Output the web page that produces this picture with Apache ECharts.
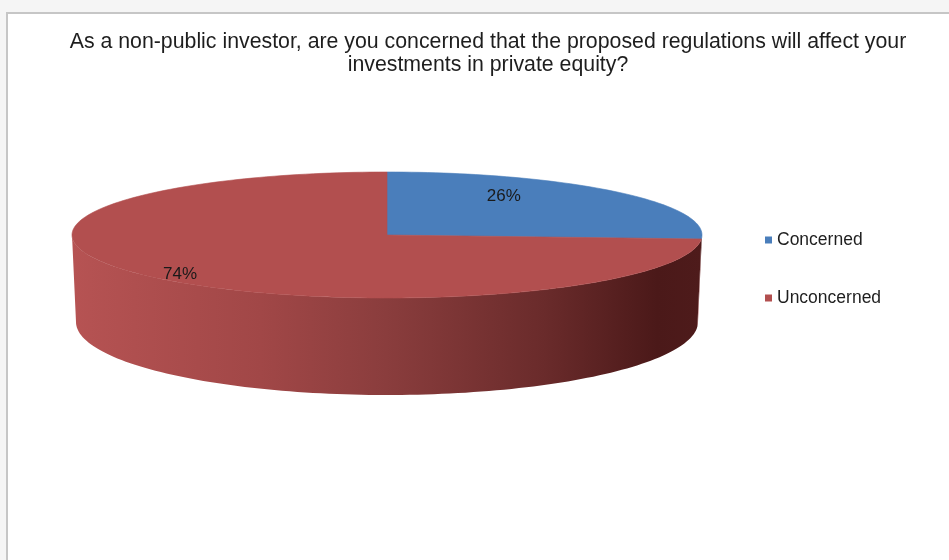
<!DOCTYPE html>
<html>
<head>
<meta charset="utf-8">
<script src="https://cdn.jsdelivr.net/npm/echarts@6/dist/echarts.min.js"></script>
<style>
html,body{margin:0;padding:0;background:#ffffff;}
#chart{width:949px;height:560px;}
</style>
</head>
<body>
<div id="chart"></div>
<script>
// ---- data ----
const categories = ['Concerned', 'Unconcerned'];
const values = [26, 74];
const labelTexts = ['26%', '74%'];

// ---- styling / geometry (not data) ----
const sliceColors = ['#4a7ebb', '#b24f4f'];
const wallStops = [
  [0, '#b65353'], [0.3, '#a14747'], [0.5, '#8a3d3d'],
  [0.75, '#6a2b2b'], [0.93, '#4b1919'], [1, '#4e1b1b']
];
const G = { cx: 387, cy: 235, rx: 315, ry: 63, cyb: 322, rxb: 311, ryb: 73 };
// label anchors as fractions of the top ellipse radii
const labelAnchor = [[0.371, -0.62], [-0.657, 0.62]];

const total = values.reduce((a, b) => a + b, 0);
const starts = [];
let acc = 0;
values.forEach(v => { starts.push(acc / total * 360); acc += v; });

function pt(deg, cx, cy, rx, ry) {
  const t = deg * Math.PI / 180;
  return [cx + rx * Math.sin(t), cy - ry * Math.cos(t)];
}
function arc(a, b, cx, cy, rx, ry) {
  const pts = [];
  const n = Math.max(4, Math.ceil(Math.abs(b - a) / 1.5));
  for (let i = 0; i <= n; i++) pts.push(pt(a + (b - a) * i / n, cx, cy, rx, ry));
  return pts;
}

function makeRender(idx) {
  return function (params, api) {
    const a0 = starts[idx];
    const a1 = a0 + api.value(0) / total * 360;
    const children = [];
    // visible front wall: angles 90..270
    const w0 = Math.max(a0, 90), w1 = Math.min(a1, 270);
    if (w1 > w0) {
      const top = arc(w0, w1, G.cx, G.cy, G.rx, G.ry);
      const bot = arc(w1, w0, G.cx, G.cyb, G.rxb, G.ryb);
      children.push({
        type: 'polygon',
        shape: { points: top.concat(bot) },
        style: {
          fill: new echarts.graphic.LinearGradient(0, 0, 1, 0,
            wallStops.map(s => ({ offset: s[0], color: s[1] })))
        },
        z2: 1
      });
    }
    const topPts = [[G.cx, G.cy]].concat(arc(a0, a1, G.cx, G.cy, G.rx, G.ry));
    children.push({
      type: 'polygon',
      shape: { points: topPts },
      style: { fill: sliceColors[idx], stroke: sliceColors[idx], lineWidth: 0.6 },
      z2: 2
    });
    children.push({
      type: 'text',
      style: {
        text: labelTexts[idx],
        x: G.cx + labelAnchor[idx][0] * G.rx,
        y: G.cy + labelAnchor[idx][1] * G.ry,
        textAlign: 'center',
        textVerticalAlign: 'middle',
        fontSize: 17,
        fontFamily: 'Liberation Sans, Arial, sans-serif',
        fill: '#1a1a1a'
      },
      z2: 10
    });
    return { type: 'group', children: children };
  };
}

const chart = echarts.init(document.getElementById('chart'), null, { renderer: 'canvas' });
chart.setOption({
  animation: false,
  backgroundColor: '#ffffff',
  color: sliceColors,
  graphic: [
    { type: 'rect', shape: { x: 0, y: 0, width: 949, height: 560 }, style: { fill: '#f5f5f5' }, z: -10 },
    { type: 'rect', shape: { x: 7, y: 13, width: 960, height: 600 },
      style: { fill: '#ffffff', stroke: '#c6c6c6', lineWidth: 2 }, z: -9 }
  ],
  title: {
    text: 'As a non-public investor, are you concerned that the proposed regulations will affect your\ninvestments in private equity?',
    left: 483,
    textAlign: 'center',
    top: 26,
    textStyle: {
      fontFamily: 'Liberation Sans, Arial, sans-serif',
      fontSize: 21.3,
      fontWeight: 'normal',
      color: '#1e1e1e',
      lineHeight: 23
    }
  },
  legend: {
    orient: 'vertical',
    left: 760,
    top: 226,
    icon: 'rect',
    itemWidth: 7,
    itemHeight: 7,
    itemGap: 40,
    data: categories,
    textStyle: {
      fontFamily: 'Liberation Sans, Arial, sans-serif',
      fontSize: 17.5,
      color: '#1e1e1e'
    }
  },
  series: categories.map((name, i) => ({
    type: 'custom',
    name: name,
    coordinateSystem: 'none',
    itemStyle: { color: sliceColors[i] },
    renderItem: makeRender(i),
    data: [[values[i]]]
  }))
});
</script>
</body>
</html>
